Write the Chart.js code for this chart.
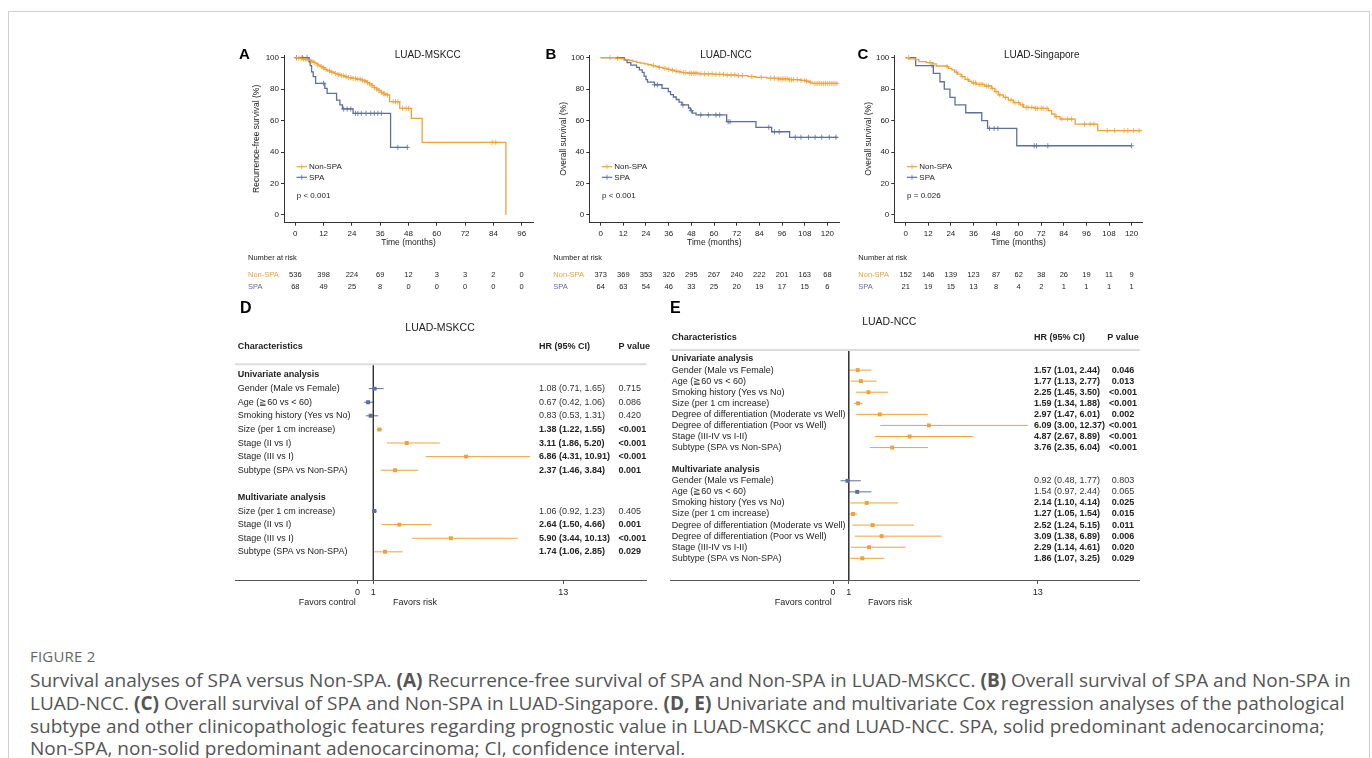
<!DOCTYPE html>
<html>
<head>
<meta charset="utf-8">
<script src="https://cdn.jsdelivr.net/npm/chart.js@4.4.0/dist/chart.umd.min.js"></script>
<style>
  html, body { margin: 0; padding: 0; background: #fff; }
  #page { position: relative; width: 1372px; height: 758px; overflow: hidden; }
  #page canvas { position: absolute; }
  #frame { position: absolute; left: 8px; top: 11px; width: 1360px; height: 820px; border: 1px solid #cfcfcf; }
  .cap { position: absolute; left: 30px; white-space: nowrap; font-family: 'Open Sans', sans-serif;
         color: #555; font-size: 16.5px; line-height: 22px; }
  .cap b { font-weight: 700; color: #555; }
  #figlabel { font-size: 15px; color: #666; letter-spacing: 0.2px; }
</style>
</head>
<body>
<div id="page">
  <div id="frame"></div>
  <canvas id="kmA" width="310" height="260" style="left:230px;top:40px"></canvas>
  <canvas id="kmB" width="310" height="260" style="left:540px;top:40px"></canvas>
  <canvas id="kmC" width="310" height="260" style="left:845px;top:40px"></canvas>
  <canvas id="coxD" width="430" height="320" style="left:225px;top:295px"></canvas>
  <canvas id="coxE" width="490" height="320" style="left:660px;top:295px"></canvas>

  <div class="cap" id="figlabel" style="top:645px">FIGURE 2</div>
  <div class="cap capline" style="top:669px">Survival analyses of SPA versus Non-SPA. <b>(A)</b> Recurrence-free survival of SPA and Non-SPA in LUAD-MSKCC. <b>(B)</b> Overall survival of SPA and Non-SPA in</div>
  <div class="cap capline" style="top:692px">LUAD-NCC. <b>(C)</b> Overall survival of SPA and Non-SPA in LUAD-Singapore. <b>(D, E)</b> Univariate and multivariate Cox regression analyses of the pathological</div>
  <div class="cap capline" style="top:715px">subtype and other clinicopathologic features regarding prognostic value in LUAD-MSKCC and LUAD-NCC. SPA, solid predominant adenocarcinoma;</div>
  <div class="cap capline" style="top:737px">Non-SPA, non-solid predominant adenocarcinoma; CI, confidence interval.</div>
</div>

<script>
// ---------- Kaplan-Meier data (months, survival %) ----------
const survTicks = [0, 20, 40, 60, 80, 100];

// A: LUAD-MSKCC, recurrence-free survival
const mskccTicks = [0, 12, 24, 36, 48, 60, 72, 84, 96];
const mskccNonSpa = [[0,100],[1.5,99.6],[3,99.2],[4.5,98.8],[5.5,98.4],[6.5,97.8],[7.5,97],[8.5,96.2],[9.5,95.3],
  [10.5,94.4],[11.5,93.6],[12.5,92.5],[13.5,91.6],[15,90.8],[16.5,90],[18,89.3],[19.5,88.6],[21,87.9],[22.5,87.3],
  [24,86.8],[26,86.3],[28,85.7],[29.5,85],[30.5,84.2],[31.5,83.3],[32.5,82.2],[33.5,81],[34.5,80],[35.5,79],
  [36.5,78],[37.5,77],[38.5,76.3],[40,72],[44.3,67.8],[49.2,61.4],[53.8,46.2],[89.3,0]];
const mskccSpa = [[0,100],[5.8,97.5],[6.3,95],[6.9,91],[7.6,88],[8.6,83.7],[12.5,80.5],[13.5,77.3],[17.5,73],
  [18.9,70],[20,67.4],[24.5,64.6],[40.4,43],[47.5,43]];
const mskccNonSpaCensor = [0.5,1.5,2.5,3.5,4.5,6,7,8,9.5,11,12,13,14.5,15.5,17,18.5,19.5,20.5,21.5,22.5,23.5,24.5,
  25.5,26.5,27.5,28.5,29.5,30.5,31.5,32.5,33.5,34.5,35.5,36.5,37.5,38,39,41.5,42.5,43.5,45.5,47,48,83.5,85];
const mskccSpaCensor = [0.5,3,5,12,20.5,22,23.5,25.5,26.5,28,30,32,33.5,35,36.5,43.5,47.5];
const mskccRiskNonSpa = [536, 398, 224, 69, 12, 3, 3, 2, 0];
const mskccRiskSpa = [68, 49, 25, 8, 0, 0, 0, 0, 0];

// B: LUAD-NCC, overall survival
const nccTicks = [0, 12, 24, 36, 48, 60, 72, 84, 96, 108, 120];
const nccNonSpa = [[0,100],[8,99.6],[11,99.2],[13,98.7],[15,98.2],[17,97.6],[19,97],[21,96.5],[23,96],[25,95.5],
  [27,95],[29,94.4],[31,93.8],[33,93.2],[35,92.6],[37,92.1],[39,91.5],[41,91],[43,90.5],[46,90.1],[52,89.7],
  [60,89.4],[66,89],[72,88.6],[78,88],[82,87.5],[88,87],[94,86.5],[100,86],[106,85.6],[109,85],[110.5,84.3],
  [112,83.6],[125.5,83.6]];
const nccSpa = [[0,100],[12.5,98.4],[14,96.9],[16,95.3],[19,93.8],[20.5,92.2],[22,90.6],[23,88.3],[24,86],
  [24.8,84.4],[28.5,82.8],[32.5,80.5],[35.8,78.4],[37,76.5],[38.5,75],[40,73.4],[41.5,71.8],[43,70],[46.5,68],
  [47.5,66.3],[48.5,64.7],[50.5,63.6],[66.7,59.3],[82.2,55.7],[90.5,52.9],[100,49.4],[125.5,49.4]];
const nccNonSpaCensor = [5,9,28,31,34,36,38,40,42,44,45,47,48,49,50,51,53,55,57,59,61,63,65,67,69,71,73,75,80,85,
  90,92,94,95,96,97,98,99,100,101,102,104,106,108,109,111,113,114,115,116,117,118,119,120,121,122,123,124,125];
const nccSpaCensor = [28.5,30,43.5,48,53,57,61,63,67.5,68.5,89,92,94.5,103,106,110,113.5,117,121,124.5];
const nccRiskNonSpa = [373, 369, 353, 326, 295, 267, 240, 222, 201, 163, 68];
const nccRiskSpa = [64, 63, 54, 46, 33, 25, 20, 19, 17, 15, 6];

// C: LUAD-Singapore, overall survival
const sgTicks = [0, 12, 24, 36, 48, 60, 72, 84, 96, 108, 120];
const sgNonSpa = [[0,100],[2,99.3],[5,98.7],[7,97.5],[11,96.8],[14.5,96],[16.2,94.7],[22,94.3],[22.8,93.2],
  [24.5,92.2],[26,90.8],[27.5,89.5],[29.5,88],[31.5,86.2],[33.5,85],[35,84],[37.5,83],[42,82],[45.5,80.5],
  [47.4,78.4],[49.2,76.3],[51.9,74.8],[54.5,73],[57.2,71.4],[60.7,70],[62.5,68.4],[68.7,67.8],[75.8,66.3],
  [77.5,64.2],[79.3,62.5],[82,61],[90,57.8],[102,53.6],[125.5,53.6]];
const sgSpa = [[0,100],[5.3,95],[14.7,90],[18.2,84.7],[20.5,80],[23.5,74.8],[26.2,70],[31.9,65],[40.4,60],
  [43.5,55],[59,44],[120,44]];
const sgNonSpaCensor = [1.5,13,22,27,30,33,36,37,39,40,41,43,44,46,48,50,53,56,58,60,62,64,65,67,69,70,72,73,75,
  80,83,86,88,95,98,100,107,111,116,118,121,124];
const sgSpaCensor = [14,44.5,47,49,68.3,69.5,75.5,120];
const sgRiskNonSpa = [152, 146, 139, 123, 87, 62, 38, 26, 19, 11, 9];
const sgRiskSpa = [21, 19, 15, 13, 8, 4, 2, 1, 1, 1, 1];

// ---------- Cox regression data ----------
const forestTicks = [0, 1, 13];

// D: LUAD-MSKCC
const mskccCoxLabels = ['Univariate analysis', 'Gender (Male vs Female)', 'Age (\u226760 vs < 60)',
  'Smoking history (Yes vs No)', 'Size (per 1 cm increase)', 'Stage (II vs I)', 'Stage (III vs I)',
  'Subtype (SPA vs Non-SPA)', '', 'Multivariate analysis', 'Size (per 1 cm increase)', 'Stage (II vs I)',
  'Stage (III vs I)', 'Subtype (SPA vs Non-SPA)'];
const mskccCoxHR   = [null, 1.08, 0.67, 0.83, 1.38, 3.11, 6.86, 2.37, null, null, 1.06, 2.64, 5.90, 1.74];
const mskccCoxLow  = [null, 0.71, 0.42, 0.53, 1.22, 1.86, 4.31, 1.46, null, null, 0.92, 1.50, 3.44, 1.06];
const mskccCoxHigh = [null, 1.65, 1.06, 1.31, 1.55, 5.20, 10.91, 3.84, null, null, 1.23, 4.66, 10.13, 2.85];
const mskccCoxP    = ['', '0.715', '0.086', '0.420', '<0.001', '<0.001', '<0.001', '0.001', '', '',
  '0.405', '0.001', '<0.001', '0.029'];

// E: LUAD-NCC
const nccCoxLabels = ['Univariate analysis', 'Gender (Male vs Female)', 'Age (\u226760 vs < 60)',
  'Smoking history (Yes vs No)', 'Size (per 1 cm increase)', 'Degree of differentiation (Moderate vs Well)',
  'Degree of differentiation (Poor vs Well)', 'Stage (III-IV vs I-II)', 'Subtype (SPA vs Non-SPA)', '',
  'Multivariate analysis', 'Gender (Male vs Female)', 'Age (\u226760 vs < 60)', 'Smoking history (Yes vs No)',
  'Size (per 1 cm increase)', 'Degree of differentiation (Moderate vs Well)',
  'Degree of differentiation (Poor vs Well)', 'Stage (III-IV vs I-II)', 'Subtype (SPA vs Non-SPA)'];
const nccCoxHR   = [null, 1.57, 1.77, 2.25, 1.59, 2.97, 6.09, 4.87, 3.76, null, null,
  0.92, 1.54, 2.14, 1.27, 2.52, 3.09, 2.29, 1.86];
const nccCoxLow  = [null, 1.01, 1.13, 1.45, 1.34, 1.47, 3.00, 2.67, 2.35, null, null,
  0.48, 0.97, 1.10, 1.05, 1.24, 1.38, 1.14, 1.07];
const nccCoxHigh = [null, 2.44, 2.77, 3.50, 1.88, 6.01, 12.37, 8.89, 6.04, null, null,
  1.77, 2.44, 4.14, 1.54, 5.15, 6.89, 4.61, 3.25];
const nccCoxP    = ['', '0.046', '0.013', '<0.001', '<0.001', '0.002', '<0.001', '<0.001', '<0.001', '', '',
  '0.803', '0.065', '0.025', '0.015', '0.011', '0.006', '0.020', '0.029'];

// ---------- styling ----------
const ORANGE = '#F0A23A';
const BLUE = '#5D6F9C';
const INK = '#222';
const FONT = "'Liberation Sans', Arial, sans-serif";
Chart.defaults.font.family = FONT;
Chart.defaults.color = INK;

function txt(ctx, s, x, y, o = {}) {
  ctx.font = (o.bold ? 'bold ' : '') + (o.size || 8) + 'px ' + FONT;
  ctx.fillStyle = o.color || INK;
  ctx.textAlign = o.align || 'left';
  ctx.textBaseline = 'middle';
  ctx.fillText(s, x, y);
}

// survival value at time t
function stepAt(curve, t) {
  let s = curve[0][1];
  for (const [ct, cs] of curve) { if (ct <= t) s = cs; else break; }
  return s;
}

// Kaplan-Meier decorations: letter, title, legend, axis titles, risk table
const kmDecor = {
  id: 'kmDecor',
  afterDraw(chart, args, o) {
    const { ctx, scales: { x }, chartArea: a } = chart;
    const px = v => v - o.origin[0], py = v => v - o.origin[1];
    ctx.save();
    txt(ctx, o.letter, px(o.letterX), py(55), { size: 15, bold: true, color: '#000' });
    txt(ctx, o.title, px(o.titleX), py(55), { size: 10, align: 'center' });

    // legend
    [[ORANGE, 'Non-SPA', 111.7], [BLUE, 'SPA', 122.3]].forEach(([c, lab, dy]) => {
      const y = a.top + dy;
      ctx.strokeStyle = c; ctx.lineWidth = 1.2;
      ctx.beginPath(); ctx.moveTo(a.left + 12.5, y); ctx.lineTo(a.left + 23, y); ctx.stroke();
      ctx.lineWidth = 0.8;
      ctx.beginPath(); ctx.moveTo(a.left + 17.7, y - 2.5); ctx.lineTo(a.left + 17.7, y + 2.5); ctx.stroke();
      txt(ctx, lab, a.left + 25, y, { size: 8 });
    });
    txt(ctx, o.pText, a.left + 12.8, a.top + 141, { size: 8 });

    // axis titles
    txt(ctx, 'Time (months)', (a.left + a.right) / 2, py(243), { size: 8.5, align: 'center' });
    ctx.save();
    ctx.translate(px(o.yTitleX), (a.top + a.bottom) / 2);
    ctx.rotate(-Math.PI / 2);
    txt(ctx, o.yTitle, 0, 0, { size: 8.5, align: 'center' });
    ctx.restore();

    // number at risk
    txt(ctx, 'Number at risk', a.left - 36, py(258), { size: 7.5 });
    txt(ctx, 'Non-SPA', a.left - 36, py(275.3), { size: 7.5, color: ORANGE });
    txt(ctx, 'SPA', a.left - 36, py(286.7), { size: 7.5, color: BLUE });
    o.ticks.forEach((t, i) => {
      const xx = x.getPixelForValue(t);
      txt(ctx, String(o.riskNonSpa[i]), xx, py(275.3), { size: 7.5, align: 'center' });
      txt(ctx, String(o.riskSpa[i]), xx, py(286.7), { size: 7.5, align: 'center' });
    });
    ctx.restore();
  }
};

function makeKM(id, cfg) {
  const cv = document.getElementById(id);
  const W = cv.width, H = cv.height;
  const yLeft = cfg.chartLeft - cfg.origin[0];
  const xAxisH = 20;
  const bottomPad = H - (222.7 - cfg.origin[1]) - xAxisH;
  const line = (curve, color) => ({
    data: curve.map(([x, y]) => ({ x, y })), borderColor: color, borderWidth: 1.3,
    stepped: true, pointRadius: 0, fill: false
  });
  const marks = (times, curve, color) => ({
    data: times.map(t => ({ x: t, y: stepAt(curve, t) })), showLine: false,
    pointStyle: 'cross', pointRadius: 2.6, borderColor: color, borderWidth: 0.8, backgroundColor: color
  });
  new Chart(cv, {
    type: 'line',
    data: {
      datasets: [
        line(cfg.nonSpa, ORANGE), line(cfg.spa, BLUE),
        marks(cfg.nonSpaCensor, cfg.nonSpa, ORANGE), marks(cfg.spaCensor, cfg.spa, BLUE)
      ]
    },
    options: {
      responsive: false, animation: false, events: [],
      layout: { padding: { left: 0, top: 55 - cfg.origin[1], right: W - (cfg.chartRight - cfg.origin[0]), bottom: bottomPad } },
      plugins: { legend: { display: false }, tooltip: { enabled: false }, kmDecor: cfg.decor },
      scales: {
        x: {
          type: 'linear', min: cfg.xMin, max: cfg.xMax,
          afterBuildTicks: s => { s.ticks = cfg.decor.ticks.map(v => ({ value: v })); },
          afterFit: s => { s.height = xAxisH; },
          grid: { drawOnChartArea: false, drawTicks: true, tickLength: 3, color: '#333' },
          border: { display: true, color: '#333', width: 1 },
          ticks: { font: { size: 8 }, color: INK, padding: 3, maxRotation: 0, autoSkip: false }
        },
        y: {
          type: 'linear', min: -4.9, max: 101.7,
          afterBuildTicks: s => { s.ticks = survTicks.map(v => ({ value: v })); },
          afterFit: s => { s.width = yLeft; },
          grid: { drawOnChartArea: false, drawTicks: true, tickLength: 3, color: '#333' },
          border: { display: true, color: '#333', width: 1 },
          ticks: { font: { size: 8 }, color: INK, padding: 2 }
        }
      }
    },
    plugins: [kmDecor]
  });
}

makeKM('kmA', {
  origin: [230, 40], chartLeft: 284, chartRight: 533, xMin: -4.8, xMax: 100.8,
  nonSpa: mskccNonSpa, spa: mskccSpa, nonSpaCensor: mskccNonSpaCensor, spaCensor: mskccSpaCensor,
  decor: { origin: [230, 40], letter: 'A', letterX: 239, title: 'LUAD-MSKCC', titleX: 427.7,
    yTitle: 'Recurrence-free survival (%)', yTitleX: 256.7, pText: 'p < 0.001',
    ticks: mskccTicks, riskNonSpa: mskccRiskNonSpa, riskSpa: mskccRiskSpa }
});
makeKM('kmB', {
  origin: [540, 40], chartLeft: 589.3, chartRight: 839.3, xMin: -6, xMax: 126.3,
  nonSpa: nccNonSpa, spa: nccSpa, nonSpaCensor: nccNonSpaCensor, spaCensor: nccSpaCensor,
  decor: { origin: [540, 40], letter: 'B', letterX: 545.5, title: 'LUAD-NCC', titleX: 726,
    yTitle: 'Overall survival (%)', yTitleX: 563.3, pText: 'p < 0.001',
    ticks: nccTicks, riskNonSpa: nccRiskNonSpa, riskSpa: nccRiskSpa }
});
makeKM('kmC', {
  origin: [845, 40], chartLeft: 894.3, chartRight: 1142.7, xMin: -6.05, xMax: 125.9,
  nonSpa: sgNonSpa, spa: sgSpa, nonSpaCensor: sgNonSpaCensor, spaCensor: sgSpaCensor,
  decor: { origin: [845, 40], letter: 'C', letterX: 857.5, title: 'LUAD-Singapore', titleX: 1041.7,
    yTitle: 'Overall survival (%)', yTitleX: 868.3, pText: 'p = 0.026',
    ticks: sgTicks, riskNonSpa: sgRiskNonSpa, riskSpa: sgRiskSpa }
});

// ---------- forest plots ----------
function isSig(p) { return p.startsWith('<') || parseFloat(p) < 0.05; }

const ciBars = {
  id: 'ciBars',
  beforeDatasetsDraw(chart) {
    const { ctx, scales: { x } } = chart;
    const ds = chart.data.datasets[0];
    ctx.save();
    ctx.lineWidth = 1;
    chart.getDatasetMeta(0).data.forEach((el, i) => {
      const d = ds.data[i];
      ctx.strokeStyle = d.sig ? ORANGE : BLUE;
      ctx.beginPath();
      ctx.moveTo(x.getPixelForValue(d.lo), el.y);
      ctx.lineTo(x.getPixelForValue(d.hi), el.y);
      ctx.stroke();
    });
    ctx.restore();
  }
};

const forestText = {
  id: 'forestText',
  afterDraw(chart, args, o) {
    const { ctx, scales: { y }, chartArea: a } = chart;
    const px = v => v - o.origin[0], py = v => v - o.origin[1];
    ctx.save();
    txt(ctx, o.letter, px(o.letterX), py(308.3), { size: 16, bold: true, color: '#000' });
    txt(ctx, o.title, px(o.titleX), py(o.titleY), { size: 10.5, align: 'center' });
    const hy = py(o.headerY);
    txt(ctx, 'Characteristics', px(o.labelX), hy, { size: 9, bold: true });
    txt(ctx, 'HR (95% CI)', px(o.hrX), hy, { size: 9, bold: true });
    txt(ctx, 'P value', px(o.pX), hy, { size: 9, bold: true, align: o.pAlign });
    ctx.strokeStyle = '#dcdcdc'; ctx.lineWidth = 2;
    ctx.beginPath(); ctx.moveTo(a.left, a.top); ctx.lineTo(px(o.lineRight), a.top); ctx.stroke();

    o.labels.forEach((lab, i) => {
      if (!lab) return;
      const yy = y.getPixelForValue(i);
      const hr = o.hr[i];
      if (hr === null) { txt(ctx, lab, px(o.labelX), yy, { size: 9, bold: true }); return; }
      const sig = isSig(o.p[i]);
      txt(ctx, lab, px(o.labelX), yy, { size: 9 });
      const s = hr.toFixed(2) + ' (' + o.lo[i].toFixed(2) + ', ' + o.hi[i].toFixed(2) + ')';
      txt(ctx, s, px(o.hrX), yy, { size: 9, bold: sig, color: sig ? INK : '#333' });
      txt(ctx, o.p[i], px(o.pX), yy, { size: 9, bold: sig, align: o.pAlign, color: sig ? INK : '#333' });
    });
    txt(ctx, 'Favors control', px(o.favorsControlX), py(602.3), { size: 9, align: 'center' });
    txt(ctx, 'Favors risk', px(o.favorsRiskX), py(602.3), { size: 9, align: 'center' });
    ctx.restore();
  }
};

function makeForest(id, cfg) {
  const cv = document.getElementById(id);
  const W = cv.width, H = cv.height;
  const o = cfg.decor;
  const pts = [];
  o.hr.forEach((h, i) => {
    if (h !== null) pts.push({ x: h, y: i, lo: o.lo[i], hi: o.hi[i], sig: isSig(o.p[i]) });
  });
  const top = cfg.chartTop - cfg.origin[1];
  const xAxisH = 20;
  new Chart(cv, {
    type: 'scatter',
    data: {
      datasets: [
        { data: pts, pointStyle: 'rect', pointRadius: 2.8, borderWidth: 0,
          pointBackgroundColor: pts.map(p => p.sig ? ORANGE : BLUE) },
        { data: [{ x: 1, y: cfg.yMin }, { x: 1, y: cfg.yMax }], showLine: true,
          borderColor: '#333', borderWidth: 1, pointRadius: 0 }
      ]
    },
    options: {
      responsive: false, animation: false, events: [],
      layout: { padding: { left: 10, top: top, right: W - (cfg.chartRight - cfg.origin[0]), bottom: H - 285 - xAxisH } },
      plugins: { legend: { display: false }, tooltip: { enabled: false }, forestText: o },
      scales: {
        x: {
          type: 'linear', min: cfg.xMin, max: cfg.xMax,
          afterBuildTicks: s => { s.ticks = forestTicks.map(v => ({ value: v })); },
          afterFit: s => { s.height = xAxisH; },
          grid: { drawOnChartArea: false, drawTicks: true, tickLength: 4, color: '#555' },
          border: { display: true, color: '#555', width: 1 },
          ticks: { font: { size: 9 }, color: INK, padding: 3, maxRotation: 0, autoSkip: false }
        },
        y: { type: 'linear', display: false, reverse: true, min: cfg.yMin, max: cfg.yMax }
      }
    },
    plugins: [ciBars, forestText]
  });
}

makeForest('coxD', {
  origin: [225, 295], chartTop: 364.3, chartRight: 646.7, xMin: -7.74, xMax: 18.27, yMin: -0.787, yMax: 15.07,
  decor: { origin: [225, 295], letter: 'D', letterX: 240, title: 'LUAD-MSKCC', titleX: 440, titleY: 328.3,
    headerY: 346.7, labelX: 237.7, hrX: 539, pX: 618.5, pAlign: 'left', lineRight: 646.7,
    favorsControlX: 327.3, favorsRiskX: 415,
    labels: mskccCoxLabels, hr: mskccCoxHR, lo: mskccCoxLow, hi: mskccCoxHigh, p: mskccCoxP }
});
makeForest('coxE', {
  origin: [660, 295], chartTop: 350, chartRight: 1139, xMin: -10.35, xMax: 19.43, yMin: -0.813, yMax: 19.96,
  decor: { origin: [660, 295], letter: 'E', letterX: 670, title: 'LUAD-NCC', titleX: 889.3, titleY: 321.7,
    headerY: 337.7, labelX: 671.7, hrX: 1034, pX: 1123, pAlign: 'center', lineRight: 1140,
    favorsControlX: 803.3, favorsRiskX: 890,
    labels: nccCoxLabels, hr: nccCoxHR, lo: nccCoxLow, hi: nccCoxHigh, p: nccCoxP }
});

// fit caption font so the first line spans the same width as in the figure
const capLines = document.querySelectorAll('.capline');
const w0 = capLines[0].getBoundingClientRect().width;
const fs = 16.5 * 1322 / w0;
capLines.forEach(el => { el.style.fontSize = fs.toFixed(2) + 'px'; });
</script>
</body>
</html>
